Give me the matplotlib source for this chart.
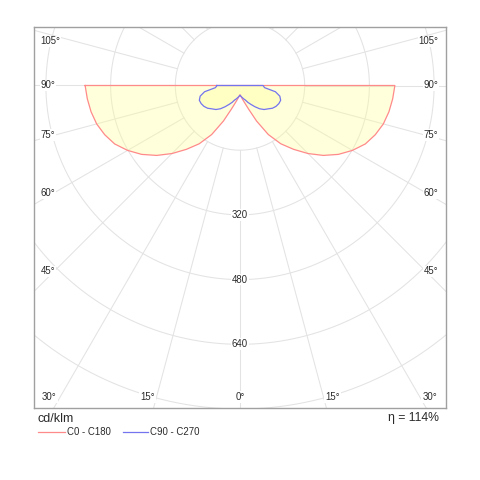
import numpy as np
import matplotlib
matplotlib.use('Agg')
import matplotlib.pyplot as plt
from matplotlib.lines import Line2D

plt.rcParams['font.family'] = ['Liberation Sans', 'DejaVu Sans']

# ---- data (cd/klm) ----
gamma = np.arange(0, 91, 5)  # degrees from nadir
c0_c180 = [23, 27, 34, 44, 62, 97, 140, 176, 206, 238, 269, 297, 321, 342, 356, 367, 374, 379, 383]
c90_c270 = [24, 27, 30, 34, 38, 46, 54, 64, 75, 84, 90, 98, 103, 106, 107, 102, 89, 61, 57]
rings = [160, 320, 480, 640, 800]
ring_labels = [320, 480, 640]
spoke_angles = np.arange(0, 360, 15)
side_angles = [45, 60, 75, 90, 105]
bottom_angles = [15, 0]
corner_angle = 30
efficiency = "η = 114%"
unit = "cd/klm"
series_names = ["C0 - C180", "C90 - C270"]

# ---- geometry ----
W, H = 480, 480
S = 64.7 / 160.0           # px per cd/klm
cx, cy = 240.0, 85.5       # centre in px
fl, fr, ft, fb = 34.0, 445.5, 27.0, 407.5   # frame px

fig = plt.figure(figsize=(4.8, 4.8), dpi=100)
ax = fig.add_axes([fl / W, 1 - fb / H, (fr - fl) / W, (fb - ft) / H])
ax.set_xlim((fl - cx) / S, (fr - cx) / S)
ax.set_ylim(-(fb - cy) / S, (cy - ft) / S)
ax.set_aspect('equal', adjustable='box')
ax.set_xticks([]); ax.set_yticks([])
for sp in ax.spines.values():
    sp.set_color('#a0a0a0'); sp.set_linewidth(1.0)

grid_c = '#e3e3e3'
t = np.linspace(0, 2 * np.pi, 721)
for r in rings:
    ax.plot(r * np.cos(t), r * np.sin(t), color=grid_c, lw=0.75, zorder=1)
for a in spoke_angles:
    ar = np.radians(a)
    ax.plot([rings[0] * np.sin(ar), 1200 * np.sin(ar)],
            [-rings[0] * np.cos(ar), -1200 * np.cos(ar)], color=grid_c, lw=0.75, zorder=1)


def polygon(vals):
    v = np.asarray(vals, float)
    g = np.radians(np.concatenate([-gamma[::-1], gamma[1:]]))
    r = np.concatenate([v[::-1], v[1:]])
    return r * np.sin(g), -r * np.cos(g)

fill_c = '#ffff99'
xr, yr = polygon(c0_c180)
ax.fill(xr, yr, facecolor=fill_c, alpha=0.35, edgecolor='none', zorder=2)
ax.plot(np.append(xr, xr[0]), np.append(yr, yr[0]), color='#ff8a8a', lw=0.9, zorder=4)
xb, yb = polygon(c90_c270)
ax.fill(xb, yb, facecolor=fill_c, alpha=0.35, edgecolor='none', zorder=3)
ax.plot(np.append(xb, xb[0]), np.append(yb, yb[0]), color='#7474ee', lw=0.9, zorder=5)

txt_c = '#2a2a2a'
fs = 6.9
bb = dict(facecolor='white', edgecolor='none', pad=0.6)
for r in ring_labels:
    ax.text(0, -r, str(r), ha='center', va='center', fontsize=fs, color=txt_c, bbox=bb, zorder=6)

# angle labels
xl = (40.5 - cx) / S
xrt = (438.5 - cx) / S
Wl = 186 / S
ytop = (cy - 41.5) / S
for a in side_angles:
    y = -Wl / np.tan(np.radians(a)) if a != 90 else 0.0
    y = min(y, ytop)
    ax.text(xl, y, f"{a}°", ha='left', va='center', fontsize=fs, color=txt_c, bbox=bb, zorder=6)
    ax.text(xrt, y, f"{a}°", ha='right', va='center', fontsize=fs, color=txt_c, bbox=bb, zorder=6)
yb_lab = -(396.7 - cy) / S
Hb = 345 / S
for a in bottom_angles:
    x = Hb * np.tan(np.radians(a))
    ax.text(-x, yb_lab, f"{a}°", ha='center', va='center', fontsize=fs, color=txt_c, bbox=bb, zorder=6)
    if a != 0:
        ax.text(x, yb_lab, f"{a}°", ha='center', va='center', fontsize=fs, color=txt_c, bbox=bb, zorder=6)
ax.text(xl + 1.5 / S, yb_lab, f"{corner_angle}°", ha='left', va='center', fontsize=fs, color=txt_c, bbox=bb, zorder=6)
ax.text(xrt - 1.5 / S, yb_lab, f"{corner_angle}°", ha='right', va='center', fontsize=fs, color=txt_c, bbox=bb, zorder=6)

# texts below frame
fig.text(38 / W, 1 - 419 / H, unit, ha='left', va='center', fontsize=9.0, color=txt_c)
fig.text(439.5 / W, 1 - 418 / H, efficiency, ha='right', va='center', fontsize=8.8, color=txt_c)

# legend
ly = 1 - 432 / H
fig.add_artist(Line2D([38 / W, 65 / W], [ly, ly], color='#ff8a8a', lw=0.9, transform=fig.transFigure))
fig.text(67 / W, ly, series_names[0], ha='left', va='center', fontsize=fs, color=txt_c)
fig.add_artist(Line2D([123 / W, 148 / W], [ly, ly], color='#7474ee', lw=0.9, transform=fig.transFigure))
fig.text(149.5 / W, ly, series_names[1], ha='left', va='center', fontsize=fs, color=txt_c)

fig.savefig('out.png', dpi=100, facecolor='white')
